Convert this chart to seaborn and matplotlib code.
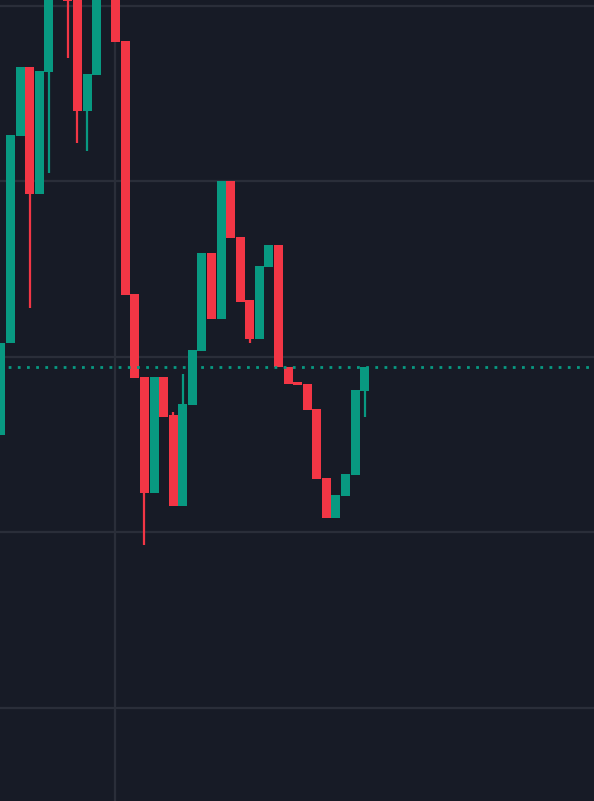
import numpy as np
import matplotlib
matplotlib.use("Agg")
import matplotlib.pyplot as plt
import seaborn as sns

# candle data (price units), index -1 is the clipped candle at the left edge
idx = np.arange(-1, 38)
opens = [97.78, 100.40, 106.30, 108.26, 104.64, 108.12, 111.00, 111.40, 110.60, 107.01,
         108.03, 110.80, 111.20, 108.99, 101.79, 99.43, 96.13, 99.43, 98.35, 95.75,
         98.63, 100.17, 102.96, 101.08, 105.01, 103.42, 101.62, 100.51, 102.56, 103.19,
         99.72, 99.29, 99.23, 98.52, 96.55, 95.41, 96.04, 96.64, 99.03]
closes = [100.40, 106.32, 108.26, 104.64, 108.15, 111.00, 111.60, 110.14, 107.01, 108.06,
          110.80, 111.30, 108.97, 101.77, 99.40, 96.13, 99.43, 98.29, 95.75, 98.66,
          100.20, 102.96, 101.08, 105.01, 103.39, 101.57, 100.51, 102.59, 103.19, 99.72,
          99.23, 99.20, 98.49, 96.52, 95.41, 96.07, 96.67, 99.06, 99.72]
highs = [100.40, 106.32, 108.26, 108.26, 108.15, 111.00, 111.90, 111.40, 110.60, 108.06,
         110.80, 111.30, 111.20, 108.99, 101.79, 99.43, 99.43, 99.43, 98.43, 99.52,
         100.20, 102.96, 102.96, 105.01, 105.01, 103.42, 101.62, 102.59, 103.19, 103.19,
         99.72, 99.29, 99.23, 98.52, 96.55, 96.07, 96.67, 99.06, 99.72]
lows = [97.78, 100.40, 106.30, 101.40, 104.64, 105.24, 110.60, 108.52, 106.10, 105.87,
        108.03, 110.50, 108.97, 101.77, 99.40, 94.64, 96.13, 98.29, 95.75, 95.75,
        98.63, 100.17, 101.08, 101.08, 103.39, 101.57, 100.40, 100.51, 102.56, 99.72,
        99.23, 99.20, 98.49, 96.52, 95.41, 95.41, 96.04, 96.64, 98.29]
price_levels = [90, 95, 100, 105, 110]
time_marks = [10.92]
last_price = closes[-1]

up_color = "#089981"
down_color = "#F23645"
bg = "#171B26"
grid = "#2A2E39"

sns.set_theme(style="dark", rc={"axes.facecolor": bg, "figure.facecolor": bg,
                                "grid.color": grid, "axes.edgecolor": bg})

fig = plt.figure(figsize=(5.94, 8.01), dpi=100)
ax = fig.add_axes([0, 0, 1, 1])

opens = np.array(opens)
closes = np.array(closes)
colors = np.where(closes >= opens, up_color, down_color)

ax.set_yticks(price_levels)
ax.set_xticks(time_marks)
ax.grid(True, color=grid, linewidth=1.6)
ax.set_axisbelow(True)

ax.vlines(idx, lows, highs, colors=colors, linewidth=1.6, zorder=2)
body_low = np.minimum(opens, closes)
body_h = np.abs(closes - opens)
ax.bar(idx, body_h, bottom=body_low, width=0.94, color=colors, linewidth=0, zorder=3)

sns.lineplot(x=[-5, 70], y=[last_price, last_price], ax=ax, color=up_color,
             linewidth=2.0, linestyle=(0, (1, 2.3)), zorder=4)

ax.set_xlim(-1.097, 60.97)
ax.set_ylim(87.35, 110.17)
ax.tick_params(left=False, bottom=False, labelleft=False, labelbottom=False)
for s in ax.spines.values():
    s.set_visible(False)

fig.savefig("out.png", dpi=100, facecolor=bg)
